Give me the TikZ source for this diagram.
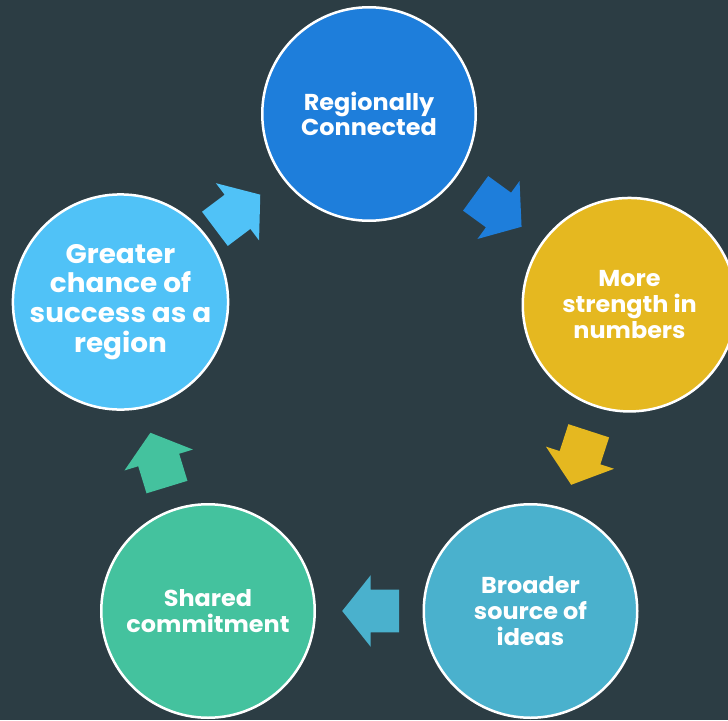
\documentclass[tikz,border=0pt]{standalone}
\usepackage{fontspec}
\setmainfont{Poppins}[FakeStretch=1.04]
\usetikzlibrary{calc}
\definecolor{bgc}{HTML}{2C3D44}
\definecolor{cblue}{HTML}{1E7EDB}
\definecolor{cyellow}{HTML}{E5B820}
\definecolor{cteal}{HTML}{4AB1CD}
\definecolor{cgreen}{HTML}{44C29E}
\definecolor{clight}{HTML}{50C2F7}
\tikzset{
  bubble/.style={circle, draw=white, line width=2.5pt, inner sep=0pt,
    minimum size=213.5pt, text=white, align=center,
    font=\fontsize{23}{25.7}\selectfont\bfseries},
  bigtext/.style={font=\fontsize{26.8}{29.8}\selectfont\bfseries},
  blockarrow/.pic={\fill[pic actions] (-28.3,-21.4) -- (0,-21.4) -- (0,-35.8) -- (28.5,0) -- (0,35.8) -- (0,21.4) -- (-28.3,21.4) -- cycle;}
}
\begin{document}
\begin{tikzpicture}[x=1pt,y=-1pt]
\fill[bgc] (0,0) rectangle (728,720);
\useasboundingbox (0,0) rectangle (728,720);
\node[bubble, fill=cblue] (t) at (369,114) {Regionally\\Connected};
\node[bubble, fill=cyellow] (r) at (629.5,304.7) {More\\strength in\\numbers};
\node[bubble, fill=cteal] (br) at (530.5,611) {Broader\\source of\\ideas};
\node[bubble, fill=cgreen] (bl) at (208,611) {Shared\\commitment};
\node[bubble, bigtext, fill=clight] (l) at (120.5,302) {Greater\\chance of\\success as a\\region};
\coordinate (a1) at (498.5,210);
\coordinate (a2) at (580,457.7);
\coordinate (a3) at (370.7,611);
\coordinate (a4) at (158.7,460);
\coordinate (a5) at (237.5,211.8);
\pic[fill=cblue, shift={(a1)}, rotate=-36] {blockarrow};
\pic[fill=cyellow, shift={(a2)}, rotate=-108] {blockarrow};
\pic[fill=cteal, shift={(a3)}, rotate=180] {blockarrow};
\pic[fill=cgreen, shift={(a4)}, rotate=107] {blockarrow};
\pic[fill=clight, shift={(a5)}, rotate=37] {blockarrow};
\end{tikzpicture}
\end{document}
